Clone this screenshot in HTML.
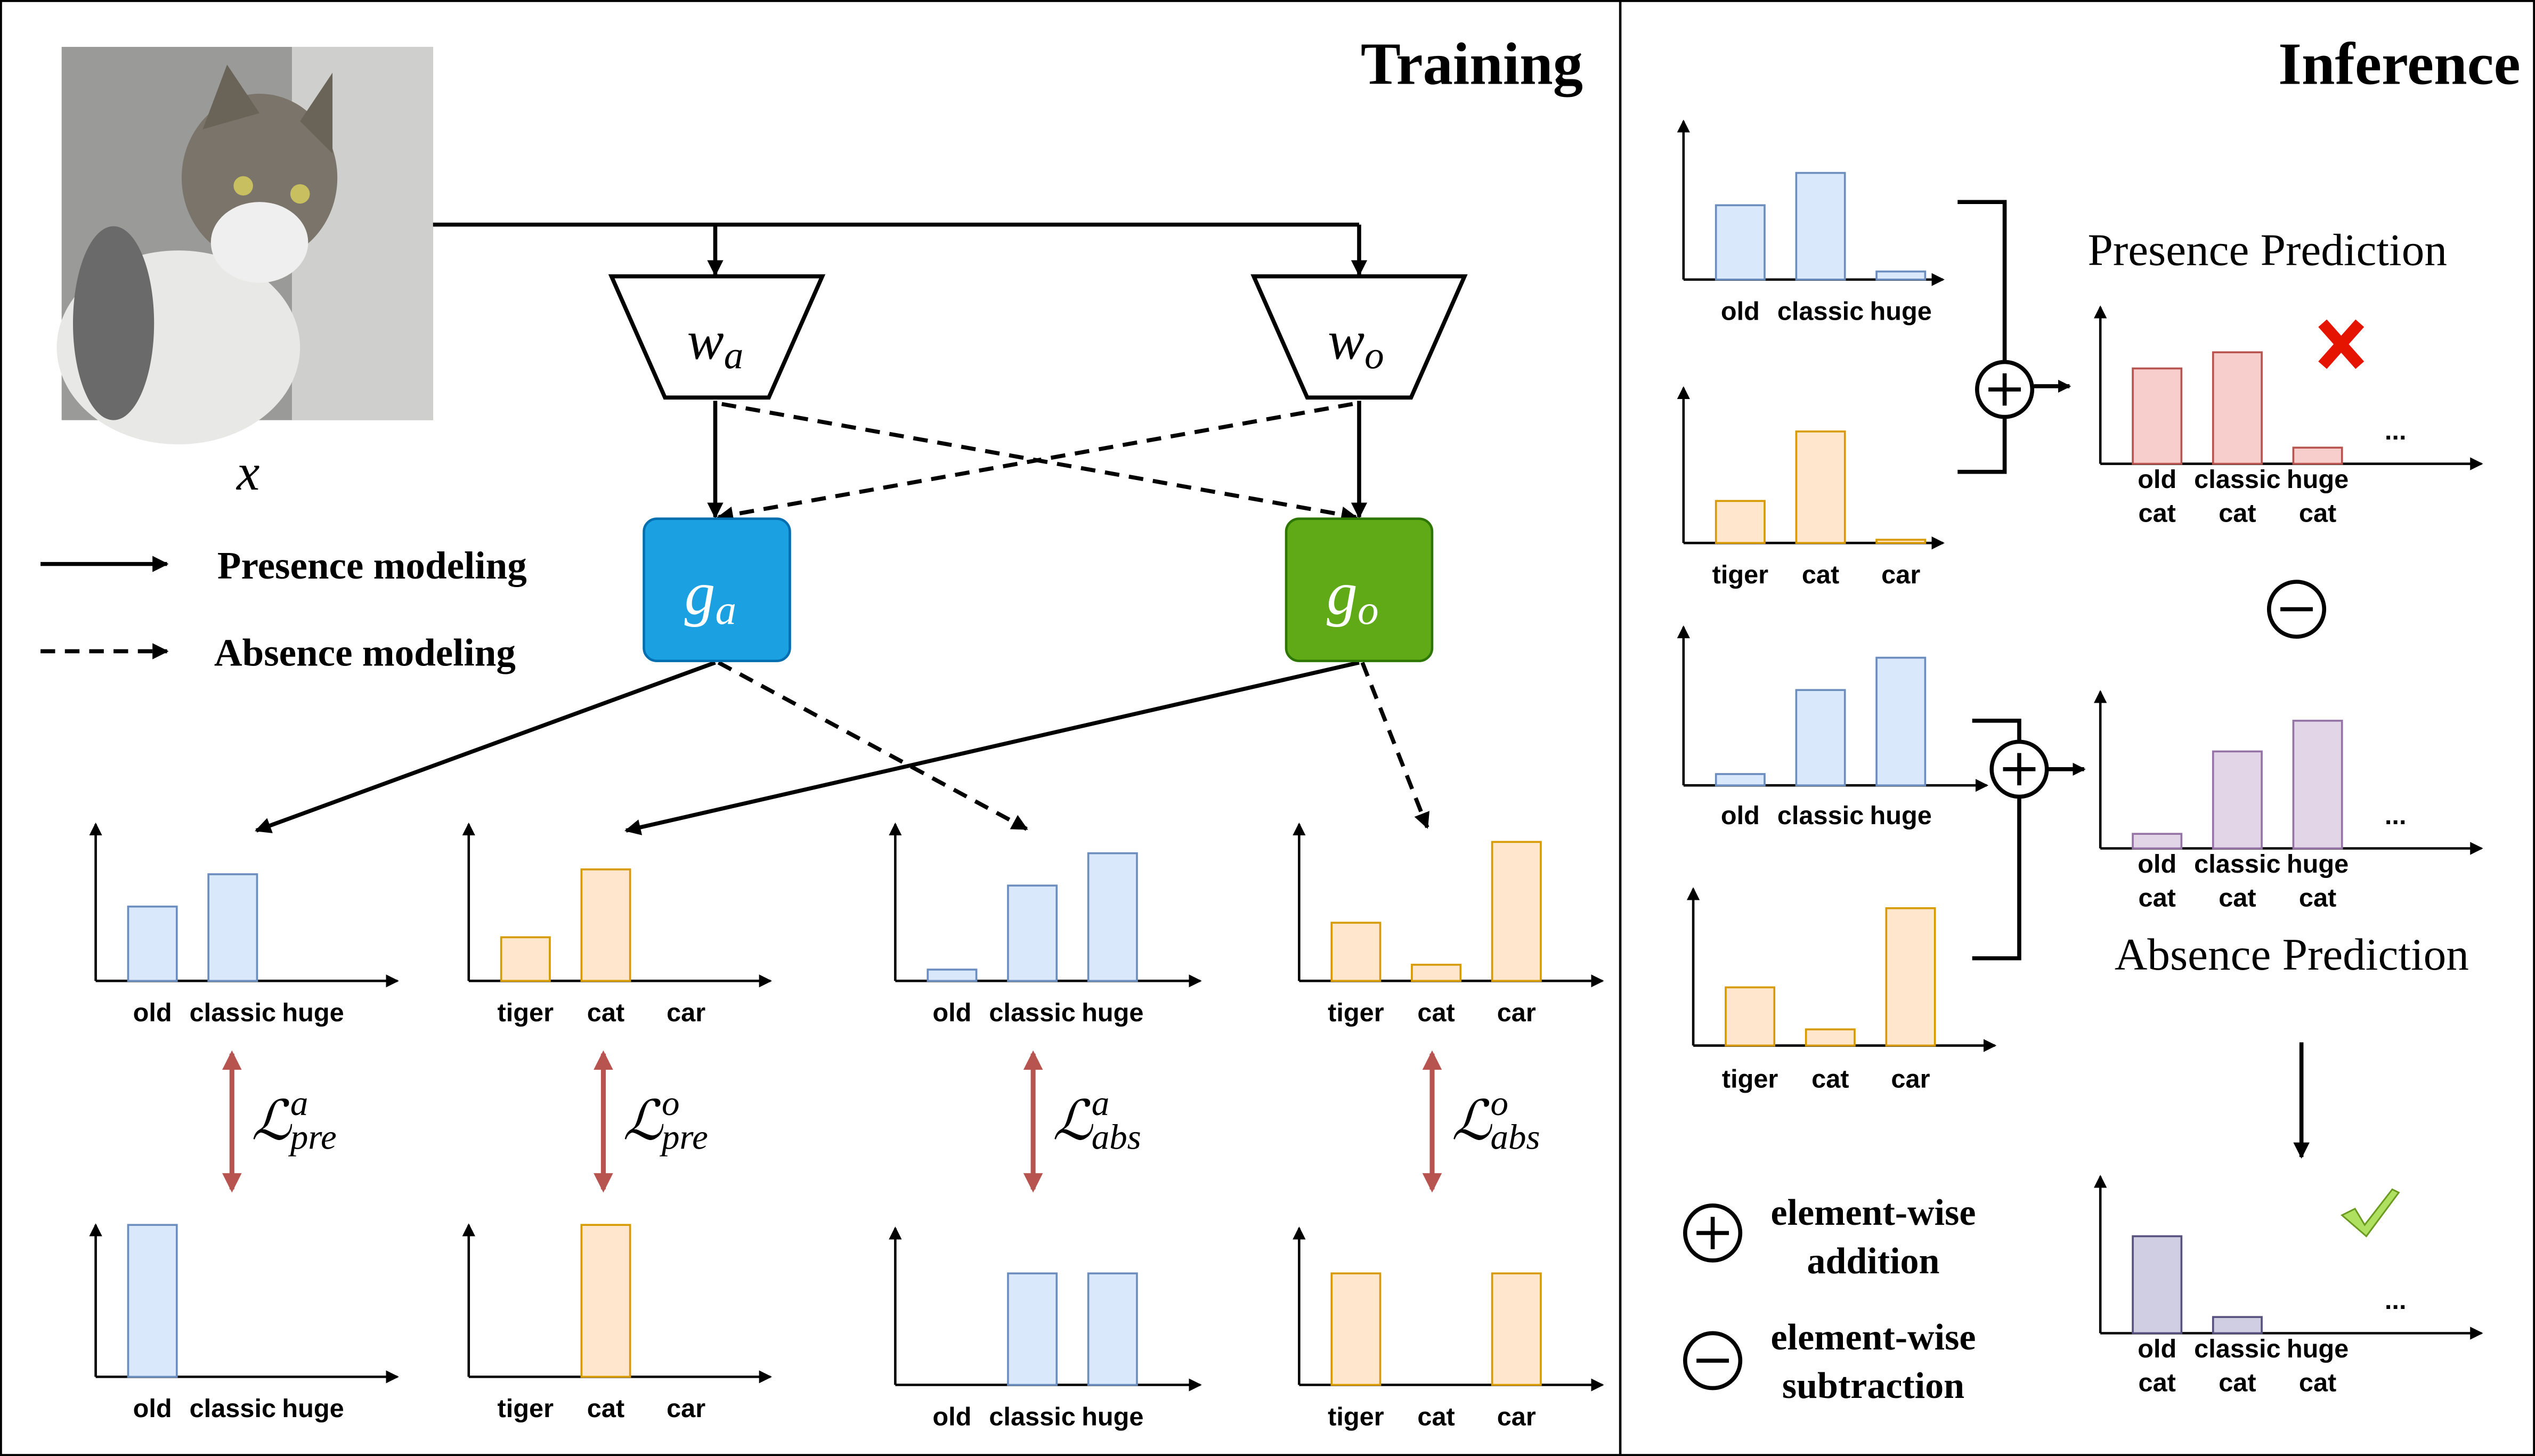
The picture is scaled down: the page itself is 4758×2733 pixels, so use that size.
<!DOCTYPE html>
<html><head><meta charset="utf-8">
<style>
html,body{margin:0;padding:0;background:#fff;}
svg{display:block;}
.lbl{font-family:"Liberation Sans",sans-serif;font-size:16px;font-weight:bold;fill:#000;}
.ser{font-family:"Liberation Serif",serif;font-weight:bold;fill:#000;}
.it{font-family:"Liberation Serif",serif;font-style:italic;}
</style></head>
<body>
<svg id="root" width="4758" height="2733" viewBox="0 0 1563 901" preserveAspectRatio="none" xmlns="http://www.w3.org/2000/svg">
<defs>
<marker id="ah" markerWidth="10" markerHeight="10" refX="9" refY="5" orient="auto" markerUnits="userSpaceOnUse"><path d="M0,0 L10,5 L0,10 z" fill="#000"/></marker>
<marker id="ahs" markerWidth="8" markerHeight="8" refX="7" refY="4" orient="auto" markerUnits="userSpaceOnUse"><path d="M0,0 L8,4 L0,8 z" fill="#000"/></marker>
<marker id="ahr" markerWidth="12" markerHeight="12" refX="10" refY="6" orient="auto-start-reverse" markerUnits="userSpaceOnUse"><path d="M0,0 L12,6 L0,12 z" fill="#b85450"/></marker>
</defs>
<rect x="0.5" y="0.5" width="1562" height="900" fill="#fff" stroke="#000" stroke-width="1.5"/>
<line x1="999" y1="0" x2="999" y2="901" stroke="#000" stroke-width="1.5"/>
<text x="976" y="52" text-anchor="end" class="ser" font-size="37">Training</text>
<text x="1554" y="52" text-anchor="end" class="ser" font-size="37">Inference</text>

<g>
<rect x="38" y="29" width="229" height="231" fill="#9a9a98"/>
<rect x="180" y="29" width="87" height="231" fill="#cfcfcd"/>
<ellipse cx="110" cy="215" rx="75" ry="60" fill="#e8e8e6"/>
<ellipse cx="160" cy="110" rx="48" ry="52" fill="#7a746a"/>
<ellipse cx="160" cy="150" rx="30" ry="25" fill="#efefef"/>
<path d="M125,80 L140,40 L160,70 Z" fill="#6a6458"/>
<path d="M185,75 L205,45 L205,95 Z" fill="#6a6458"/>
<circle cx="150" cy="115" r="6" fill="#c8c060"/><circle cx="185" cy="120" r="6" fill="#c8c060"/>
<ellipse cx="70" cy="200" rx="25" ry="60" fill="#6a6a6a"/>
</g>
<text x="153" y="303" class="it" font-size="32" text-anchor="middle">x</text>

<g stroke="#000" stroke-width="2.5" fill="none">
<polyline points="267,139 838,139"/>
<line x1="441" y1="139" x2="441" y2="170" marker-end="url(#ah)"/>
<line x1="838" y1="139" x2="838" y2="170" marker-end="url(#ah)"/>
<line x1="441" y1="248" x2="441" y2="320" marker-end="url(#ah)"/>
<line x1="838" y1="248" x2="838" y2="320" marker-end="url(#ah)"/>
<line x1="445" y1="250" x2="836" y2="320" stroke-dasharray="9,6" marker-end="url(#ah)"/>
<line x1="834" y1="250" x2="443" y2="320" stroke-dasharray="9,6" marker-end="url(#ah)"/>
<line x1="441" y1="410" x2="158" y2="514" marker-end="url(#ah)"/>
<line x1="443" y1="410" x2="633" y2="513" stroke-dasharray="9,6" marker-end="url(#ah)"/>
<line x1="838" y1="410" x2="386" y2="514" marker-end="url(#ah)"/>
<line x1="840" y1="410" x2="880" y2="512" stroke-dasharray="9,6" marker-end="url(#ah)"/>
<line x1="25" y1="349" x2="103" y2="349" marker-end="url(#ah)"/>
<line x1="25" y1="403" x2="103" y2="403" stroke-dasharray="9,6" marker-end="url(#ah)"/>
</g>
<text x="134" y="358" class="ser" font-size="24">Presence modeling</text>
<text x="132" y="412" class="ser" font-size="24">Absence modeling</text>

<g>
<polygon points="377,171 507,171 474,246 410,246" fill="#fff" stroke="#000" stroke-width="2.5"/>
<text x="441" y="222" class="it" font-size="34" text-anchor="middle">w<tspan font-size="24" dy="6">a</tspan></text>
</g>
<g>
<polygon points="773,171 903,171 870,246 806,246" fill="#fff" stroke="#000" stroke-width="2.5"/>
<text x="836" y="222" class="it" font-size="34" text-anchor="middle">w<tspan font-size="24" dy="6">o</tspan></text>
</g>
<g>
<rect x="397" y="321" width="90" height="88" rx="8" fill="#1ba1e2" stroke="#006eaf" stroke-width="1.5"/>
<text x="438" y="380" class="it" font-size="38" fill="#fff" text-anchor="middle">g<tspan font-size="26" dy="6">a</tspan></text>
</g>
<g>
<rect x="793" y="321" width="90" height="88" rx="8" fill="#60a917" stroke="#2d7600" stroke-width="1.5"/>
<text x="834" y="380" class="it" font-size="38" fill="#fff" text-anchor="middle">g<tspan font-size="26" dy="6">o</tspan></text>
</g>

<g id="losses"></g>

<g id="charts"></g>

<g stroke="#000" stroke-width="2.5" fill="none">
<polyline points="1207,125 1236,125 1236,292 1207,292"/>
<polyline points="1216,446 1245,446 1245,593 1216,593"/>
<line x1="1254" y1="239" x2="1276" y2="239" marker-end="url(#ahs)"/>
<line x1="1263" y1="476" x2="1285" y2="476" marker-end="url(#ahs)"/>
<line x1="1419" y1="645" x2="1419" y2="716" marker-end="url(#ah)"/>
</g>
<g><circle cx="1236" cy="241" r="17" fill="#fff" stroke="#000" stroke-width="2.5"/><path d="M1226,241 H1246 M1236,231 V251" stroke="#000" stroke-width="2.5"/></g>
<g><circle cx="1245" cy="476" r="17" fill="#fff" stroke="#000" stroke-width="2.5"/><path d="M1235,476 H1255 M1245,466 V486" stroke="#000" stroke-width="2.5"/></g>
<g><circle cx="1416" cy="377" r="17" fill="#fff" stroke="#000" stroke-width="2.5"/><path d="M1406,377 H1426" stroke="#000" stroke-width="2.5"/></g>
<text x="1398" y="164" text-anchor="middle" font-family="Liberation Serif,serif" font-size="28">Presence Prediction</text>
<text x="1413" y="600" text-anchor="middle" font-family="Liberation Serif,serif" font-size="28">Absence Prediction</text>
<g stroke="#e51400" stroke-width="7"><line x1="1432" y1="200" x2="1455" y2="226"/><line x1="1455" y1="200" x2="1432" y2="226"/></g>
<path d="M1444,752 L1452,748 L1458,758 L1475,736 L1479,738 L1459,765 Z" fill="#b0e060" stroke="#6a9a20" stroke-width="1"/>

<g><circle cx="1056" cy="763" r="17" fill="#fff" stroke="#000" stroke-width="2.5"/><path d="M1046,763 H1066 M1056,753 V773" stroke="#000" stroke-width="2.5"/>
<text x="1155" y="758" text-anchor="middle" class="ser" font-size="23">element-wise</text><text x="1155" y="788" text-anchor="middle" class="ser" font-size="23">addition</text></g>
<g><circle cx="1056" cy="842" r="17" fill="#fff" stroke="#000" stroke-width="2.5"/><path d="M1046,842 H1066" stroke="#000" stroke-width="2.5"/>
<text x="1155" y="835" text-anchor="middle" class="ser" font-size="23">element-wise</text><text x="1155" y="865" text-anchor="middle" class="ser" font-size="23">subtraction</text></g>
</svg>
<script>
// data arrays
const attrCats = ["old","classic","huge"];
const objCats = ["tiger","cat","car"];
const predCats = ["old cat","classic cat","huge cat"];
const trainPreA = [46,66,0];
const trainPreO = [27,69,0];
const trainAbsA = [7,59,79];
const trainAbsO = [36,10,86];
const gtPreA = [94,0,0];
const gtPreO = [0,94,0];
const gtAbsA = [0,69,69];
const gtAbsO = [69,0,69];
const infPresA = [46,66,5];
const infPresO = [26,69,2];
const infAbsA = [7,59,79];
const infAbsO = [36,10,85];
const presPred = [59,69,10];
const absPred = [9,60,79];
const finalPred = [60,10,0];
const lossLabels = [["a","pre"],["o","pre"],["a","abs"],["o","abs"]];

const NS="http://www.w3.org/2000/svg";
const root=document.getElementById('charts');
const colors={blue:["#dae8fc","#6c8ebf"],orange:["#ffe6cc","#d79b00"],red:["#f8cecc","#b85450"],purple:["#e1d5e7","#9673a6"],dark:["#d0cee2","#56517e"]};
function mk(t,a,p){const e=document.createElementNS(NS,t);for(const k in a)e.setAttribute(k,a[k]);(p||root).appendChild(e);return e;}
function chart(name,ox,oy,top,right,cats,vals,col,labY,opts){
  const g=mk('g',{});
  
  
  const x=i=>ox+20+i*49.5;
  const y=v=>oy-v;
  mk('line',{x1:ox,y1:oy,x2:ox,y2:top,stroke:'#000','stroke-width':1.5,'marker-end':'url(#ahs)'},g);
  mk('line',{x1:ox,y1:oy,x2:right,y2:oy,stroke:'#000','stroke-width':1.5,'marker-end':'url(#ahs)'},g);
  vals.forEach((v,i)=>{
    if(v<=0)return;
    const r=mk('rect',{x:x(i),y:y(v),width:30,height:oy-y(v),fill:colors[col][0],stroke:colors[col][1],'stroke-width':1.2},g);
    
    
  });
  cats.forEach((c,i)=>{
    const parts=c.split(' ');
    parts.forEach((p,j)=>{
      const t=mk('text',{x:x(i)+15,y:labY+j*21,'text-anchor':'middle',class:'lbl'},g);
      t.textContent=p;
    });
  });
  if(opts&&opts.dots){const t=mk('text',{x:ox+182,y:oy-15,'text-anchor':'middle',class:'lbl'},g);t.textContent='...';}
}
chart('chart-pre-attr',59,607,510,245,attrCats,trainPreA,'blue',632);
chart('chart-pre-obj',289,607,510,475,objCats,trainPreO,'orange',632);
chart('chart-abs-attr',552,607,510,740,attrCats,trainAbsA,'blue',632);
chart('chart-abs-obj',801,607,510,988,objCats,trainAbsO,'orange',632);
chart('gt-pre-attr',59,852,758,245,attrCats,gtPreA,'blue',877);
chart('gt-pre-obj',289,852,758,475,objCats,gtPreO,'orange',877);
chart('gt-abs-attr',552,857,760,740,attrCats,gtAbsA,'blue',882);
chart('gt-abs-obj',801,857,760,988,objCats,gtAbsO,'orange',882);
chart('inf-pres-attr',1038,173,75,1198,attrCats,infPresA,'blue',198);
chart('inf-pres-obj',1038,336,240,1198,objCats,infPresO,'orange',361);
chart('inf-abs-attr',1038,486,388,1225,attrCats,infAbsA,'blue',510);
chart('inf-abs-obj',1044,647,550,1230,objCats,infAbsO,'orange',673);
chart('presence-prediction',1295,287,190,1530,predCats,presPred,'red',302,{dots:1});
chart('absence-prediction',1295,525,428,1530,predCats,absPred,'purple',540,{dots:1});
chart('final-prediction',1295,825,728,1530,predCats,finalPred,'dark',840,{dots:1});

const lroot=document.getElementById('losses');
const lossX=[143,372,637,883];
lossLabels.forEach((l,i)=>{
  const g=mk('g',{},lroot);
  
  
  mk('line',{x1:lossX[i],y1:652,x2:lossX[i],y2:736,stroke:'#b85450','stroke-width':3,'marker-start':'url(#ahr)','marker-end':'url(#ahr)'},g);
  const t=mk('text',{x:lossX[i]+12,y:705,class:'it','font-size':34},g);
  t.textContent='\u2112';
  const s=mk('text',{x:lossX[i]+36,y:690,class:'it','font-size':22},g);s.textContent=l[0];
  const b=mk('text',{x:lossX[i]+36,y:711,class:'it','font-size':22},g);b.textContent=l[1];
});
</script>
</body></html>
